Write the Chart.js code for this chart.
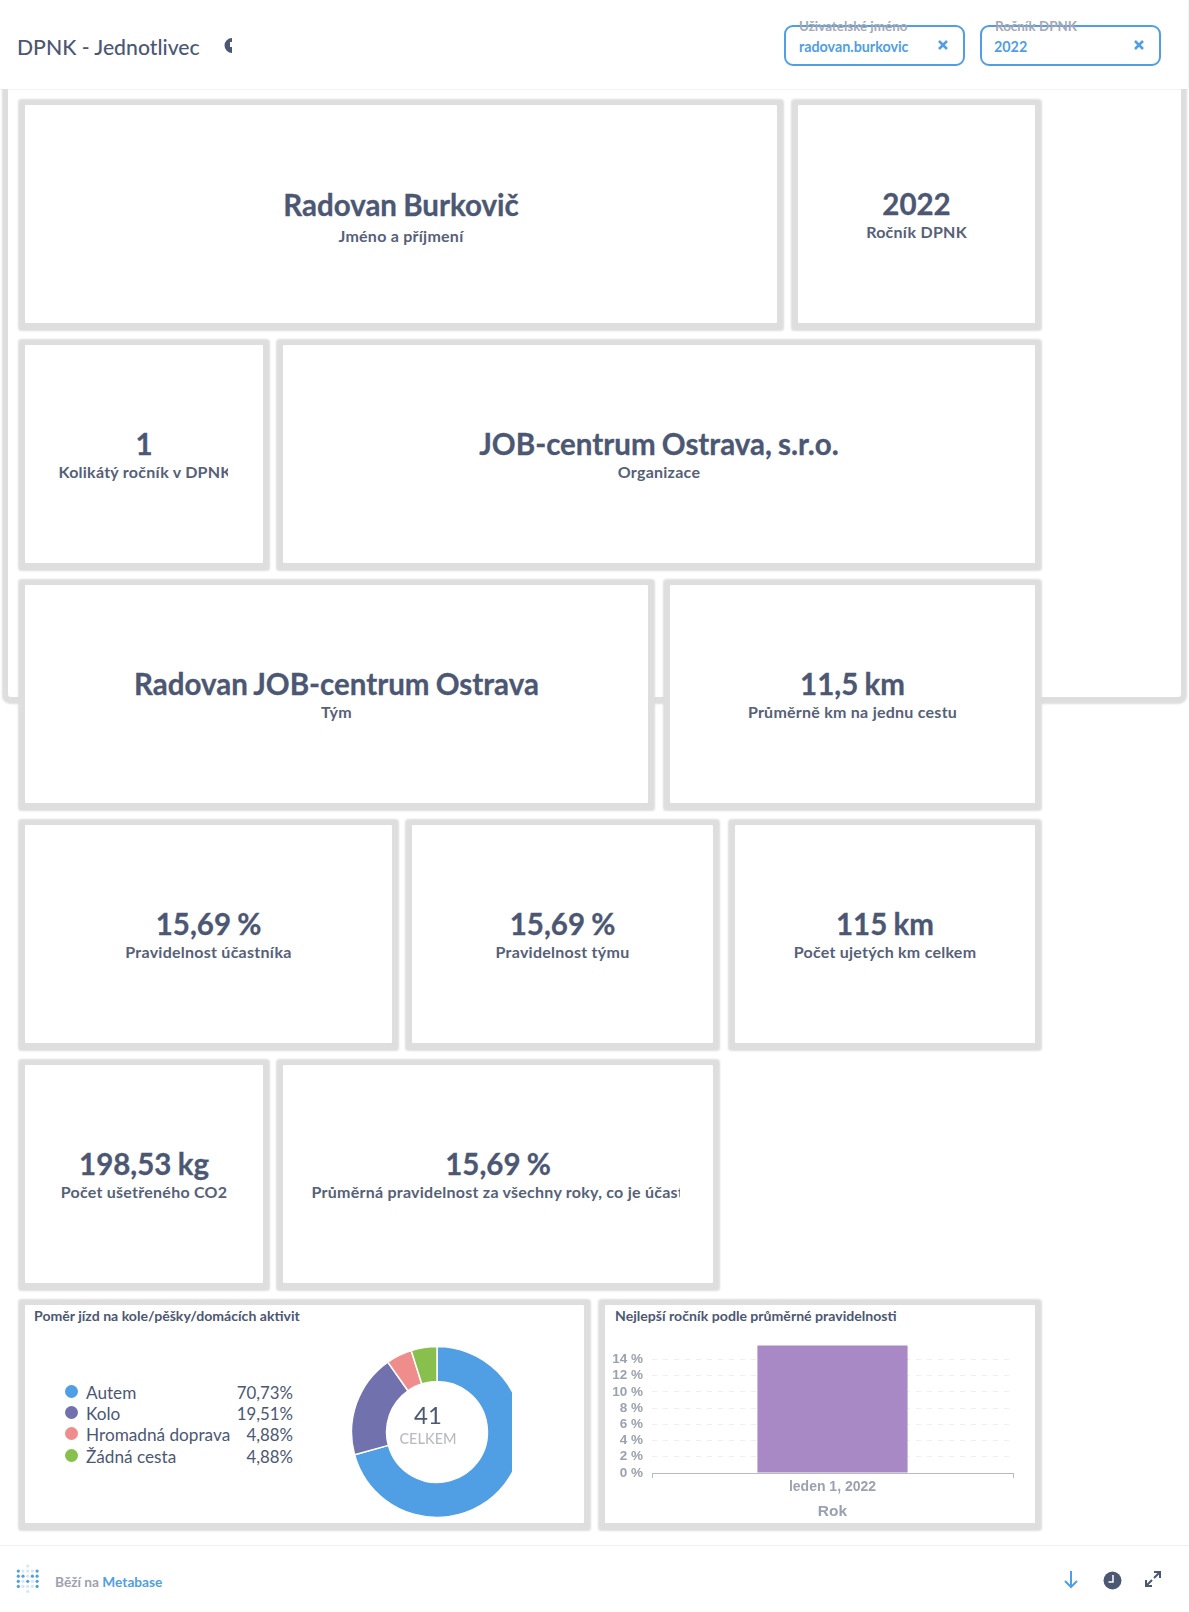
<!DOCTYPE html>
<html>
<head>
<meta charset="utf-8">
<script src="https://cdn.jsdelivr.net/npm/chart.js@4"></script>
<style>
html,body{margin:0;padding:0;background:#fff;}
body{width:1189px;height:1612px;position:relative;overflow:hidden;font-family:Lato,sans-serif;color:#4c5773;}
.abs{position:absolute;}
#frame{left:8px;top:60px;width:1173px;height:637px;border-radius:3px;box-shadow:0 1px 2px 6px #dedede;}
#header{left:0;top:0;width:1188px;height:89px;background:#fff;box-shadow:0 0 2px #ddd;}
#title{left:17px;top:33px;font-size:21.200px;font-weight:500;line-height:28px;white-space:nowrap;}
.pill{top:25px;height:37px;border:2px solid #509ee3;border-radius:9px;width:177px;}
.pilllabel{top:18px;font-size:13.400px;font-weight:700;color:#a4a8b5;line-height:16px;white-space:nowrap;}
.pillvalue{top:38px;font-size:14.300px;font-weight:700;color:#509ee3;line-height:18px;white-space:nowrap;}
.card{background:#fff;box-shadow:0 1px 2px 7px #dedede;border-radius:1px;}
.val,.lab{position:absolute;white-space:nowrap;overflow:hidden;text-align:center;}
.val{font-size:29.500px;font-weight:700;line-height:36px;word-spacing:-1px;-webkit-text-stroke:.3px #4c5773;}
.lab{font-size:16px;font-weight:700;line-height:20px;letter-spacing:.25px;color:#566079;}
.ptitle{font-size:14.100px;font-weight:700;line-height:18px;white-space:nowrap;}
.lg{font-size:17.200px;line-height:21px;white-space:nowrap;}
.lgv{font-size:16.800px;line-height:21px;white-space:nowrap;}
.dot{width:13px;height:13px;border-radius:50%;}
#footline{left:0;top:1545px;width:1189px;height:1px;background:#eeeff0;}
#powered{left:55px;top:1573px;font-size:13.700px;font-weight:700;color:#9ca1b0;line-height:17px;white-space:nowrap;}
#powered span{color:#509ee3;}
</style>
</head>
<body>
<div id="frame" class="abs"></div>
<div id="cards"></div>
<div id="header" class="abs"></div>
<div id="title" class="abs">DPNK - Jednotlivec</div>
<svg class="abs" style="left:224px;top:37px" width="9" height="17"><path d="M8 1A7.5 7.5 0 0 0 8 16V10H6V5H8Z" fill="#4c5773"/></svg>
<div class="abs pill" style="left:783.500px"></div>
<div class="abs pill" style="left:979.500px"></div>
<div class="abs pilllabel" style="left:799px">Uživatelské jméno</div>
<div class="abs pilllabel" style="left:995px">Ročník DPNK</div>
<div class="abs pillvalue" style="left:799px">radovan.burkovic</div>
<div class="abs pillvalue" style="left:994px">2022</div>
<svg class="abs" style="left:938px;top:40px" width="10" height="10"><path d="M1 1L9 9M9 1L1 9" stroke="#509ee3" stroke-width="2.500"/></svg>
<svg class="abs" style="left:1134px;top:40px" width="10" height="10"><path d="M1 1L9 9M9 1L1 9" stroke="#509ee3" stroke-width="2.500"/></svg>

<div class="abs ptitle" style="left:34px;top:1307px">Poměr jízd na kole/pěšky/domácích aktivit</div>
<div class="abs ptitle" style="left:615px;top:1307px">Nejlepší ročník podle průměrné pravidelnosti</div>
<div id="legend"></div>
<div class="abs" style="left:346.500px;top:1342px;width:165.500px;height:180px;overflow:hidden">
  <div style="width:180px;height:180px"><canvas id="donut" width="180" height="180"></canvas></div>
</div>
<div class="abs" style="left:388px;top:1400px;width:80px;text-align:center;font-size:24px;line-height:30px">41</div>
<div class="abs" style="left:388px;top:1430px;width:80px;text-align:center;font-size:14.500px;line-height:18px;font-weight:500;color:#b8bbc3">CELKEM</div>
<div class="abs" style="left:605px;top:1326px;width:430px;height:197px"><canvas id="bars" width="430" height="197"></canvas></div>

<div id="footline" class="abs"></div>
<svg id="logo" class="abs" style="left:15px;top:1563px" width="26" height="32"></svg>
<div id="powered" class="abs">Běží na <span>Metabase</span></div>
<svg class="abs" style="left:1063px;top:1570px" width="16" height="19"><path d="M8 1V17M2 11L8 17L14 11" fill="none" stroke="#509ee3" stroke-width="2"/></svg>
<svg class="abs" style="left:1103px;top:1571px" width="19" height="19"><circle cx="9.500" cy="9.500" r="9" fill="#4c5773"/><path d="M10 4V11H5.500" fill="none" stroke="#fff" stroke-width="1.500"/></svg>
<svg class="abs" style="left:1144px;top:1570px" width="18" height="18"><path d="M10 2H16V8M16 2L10 8M2 10V16H8M2 16L8 10" fill="none" stroke="#4c5773" stroke-width="2"/></svg>

<script>
// values
const cardValues = ['Radovan Burkovič', '2022', '1', 'JOB-centrum Ostrava, s.r.o.', 'Radovan JOB-centrum Ostrava', '11,5 km', '15,69 %', '15,69 %', '115 km', '198,53 kg', '15,69 %']
const cardLabels = ['Jméno a příjmení', 'Ročník DPNK', 'Kolikátý ročník v DPNK', 'Organizace', 'Tým', 'Průměrně km na jednu cestu', 'Pravidelnost účastníka', 'Pravidelnost týmu', 'Počet ujetých km celkem', 'Počet ušetřeného CO2', 'Průměrná pravidelnost za všechny roky, co je účastníkem']

const donutLabels = ['Autem', 'Kolo', 'Hromadná doprava', 'Žádná cesta']
const donutValues = [29, 8, 2, 2]
const donutPercents = ['70,73%', '19,51%', '4,88%', '4,88%']
const donutColors = ['#509ee3', '#7172ad', '#ef8c8c', '#88bf4d']

const barLabels = ['leden 1, 2022']
const barValues = [15.69]
const yTickValues = [0, 2, 4, 6, 8, 10, 12, 14]

// card boxes: left, right, top
const boxes = [
    [25, 777, 105], [798, 1035, 105],
    [25, 263, 345], [283, 1035, 345],
    [25, 648, 585], [670, 1035, 585],
    [25, 392, 825], [412, 713, 825], [735, 1035, 825],
    [25, 263, 1065], [283, 713, 1065]
]
// panels under the charts
const panels = [[25, 584, 1305], [605, 1035, 1305]]

function addCard(l, r, t, h) {
    const d = document.createElement('div')
    d.className = 'abs card'
    d.style.cssText = 'left:' + l + 'px;top:' + t + 'px;width:' + (r - l) + 'px;height:' + h + 'px'
    document.getElementById('cards').appendChild(d)
    return d
}

boxes.forEach((b, i) => {
    const card = addCard(b[0], b[1], b[2], 218)
    const val = document.createElement('div')
    val.className = 'val'
    val.textContent = cardValues[i]
    val.style.cssText = 'left:0;right:0;top:' + (i === 0 ? 82 : 81) + 'px'
    const lab = document.createElement('div')
    lab.className = 'lab'
    lab.textContent = cardLabels[i]
    // the two long labels get cut like in the reference
    let left = 34, right = 34
    if (i === 2) { left = 33.500; right = 35 }
    if (i === 10) { left = 28.500; right = 33 }
    lab.style.cssText = 'left:' + left + 'px;right:' + right + 'px;top:' + (i === 0 ? 121 : 117) + 'px'
    card.appendChild(val)
    card.appendChild(lab)
})
panels.forEach(p => addCard(p[0], p[1], p[2], 218))

donutLabels.forEach((name, i) => {
    const y = 1392 + i * 21.200
    const legend = document.getElementById('legend')
    legend.insertAdjacentHTML('beforeend',
        '<div class="abs dot" style="left:65px;top:' + (y - 7) + 'px;background:' + donutColors[i] + '"></div>' +
        '<div class="abs lg" style="left:86px;top:' + (y - 10) + 'px">' + name + '</div>' +
        '<div class="abs lgv" style="right:896px;top:' + (y - 10) + 'px">' + donutPercents[i] + '</div>')
})

// metabase logo dots, 2 = strong, 1 = light
const logoRows = ['00100', '21112', '22122', '21212', '21112', '00100']
let dots = ''
logoRows.forEach((row, r) => {
    row.split('').forEach((d, c) => {
        if (d === '0') return
        dots += '<circle cx="' + (3.300 + c * 4.700) + '" cy="' + (3 + r * 5.100) + '" r="1.600" fill="#509ee3" opacity="' + (d === '2' ? 1 : 0.25) + '"/>'
    })
})
document.getElementById('logo').innerHTML = dots

Chart.defaults.animation = false
Chart.defaults.font.family = 'Lato, sans-serif'

new Chart(document.getElementById('donut').getContext('2d'), {
    type: 'doughnut',
    data: {
        labels: donutLabels,
        datasets: [{ data: donutValues, backgroundColor: donutColors, borderColor: '#fff', borderWidth: 1.5 }]
    },
    options: {
        responsive: false,
        radius: 85.500,
        cutout: '59%',
        plugins: { legend: { display: false }, tooltip: { enabled: false } }
    }
})

new Chart(document.getElementById('bars').getContext('2d'), {
    type: 'bar',
    data: {
        labels: barLabels,
        datasets: [{ data: barValues, backgroundColor: '#a989c5', barPercentage: 0.416, categoryPercentage: 1 }]
    },
    options: {
        responsive: false,
        layout: { padding: { top: 1, right: 22, left: 0, bottom: 0 } },
        plugins: { legend: { display: false }, tooltip: { enabled: false } },
        scales: {
            x: {
                grid: { offset: true, drawOnChartArea: false, drawTicks: true, tickLength: 5, color: '#b8bbc3' },
                border: { color: '#b8bbc3', width: 1 },
                ticks: { color: '#9ca1b0', padding: 1, font: { family: 'Liberation Sans', size: 14, weight: 'bold' } },
                title: { display: true, text: 'Rok', color: '#9ca1b0', padding: { top: 2, bottom: 2 }, font: { family: 'Liberation Sans', size: 15.500, weight: 'bold' } },
                afterFit: scale => { scale.height = 50 }
            },
            y: {
                min: 0,
                max: 16,
                afterBuildTicks: scale => { scale.ticks = yTickValues.map(v => ({ value: v })) },
                afterFit: scale => { scale.width = 47 },
                border: { display: false, dash: [5, 6] },
                grid: {
                    drawTicks: false,
                    color: ctx => ctx.tick && ctx.tick.value === 0 ? 'transparent' : '#eeeff1'
                },
                ticks: {
                    color: '#9ca1b0',
                    padding: 9,
                    autoSkip: false,
                    font: { family: 'Liberation Sans', size: 13.500, weight: 'bold' },
                    callback: v => v + ' %'
                }
            }
        }
    }
})
</script>
</body>
</html>
